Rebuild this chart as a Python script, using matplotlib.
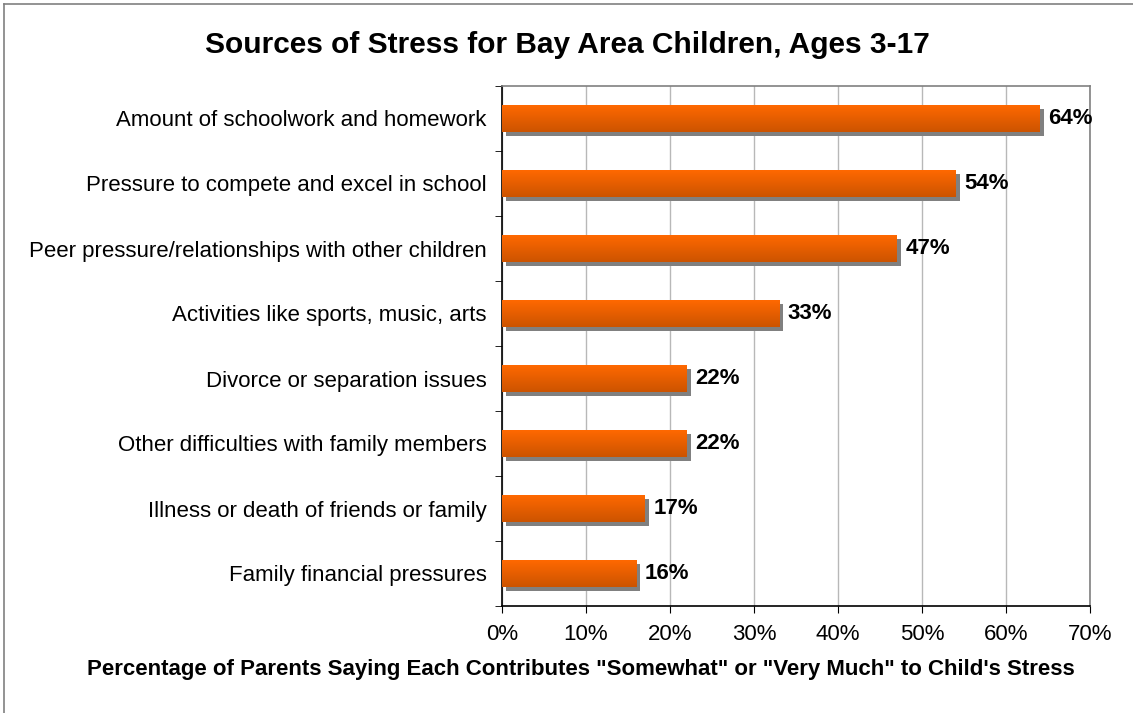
import matplotlib.pyplot as plt
import numpy as np
from matplotlib.transforms import ScaledTranslation
from matplotlib.lines import Line2D

plt.rcParams['font.family'] = ['Liberation Sans', 'DejaVu Sans']

# categories, top to bottom
sources = [
    "Amount of schoolwork and homework",
    "Pressure to compete and excel in school",
    "Peer pressure/relationships with other children",
    "Activities like sports, music, arts",
    "Divorce or separation issues",
    "Other difficulties with family members",
    "Illness or death of friends or family",
    "Family financial pressures",
]
percent = [64, 54, 47, 33, 22, 22, 17, 16]
x_ticks = [0, 10, 20, 30, 40, 50, 60, 70]

fig = plt.figure(figsize=(11.33, 7.13), dpi=100)
ax = fig.add_axes([502 / 1133, 1 - 606 / 713, 588 / 1133, 520 / 713])

n = len(sources)
ypos = np.arange(n)[::-1]
h = 0.415

# drop shadow, shifted 4px right and 4px down
shadow = ax.transData + ScaledTranslation(4 / 100, -4 / 100, fig.dpi_scale_trans)
ax.barh(ypos, percent, height=h, color='#808080', transform=shadow, zorder=2)

# orange bars with a vertical gradient
top_c = np.array([255, 104, 0]) / 255
bot_c = np.array([204, 84, 0]) / 255
grad = np.linspace(0, 1, 64)[:, None, None]
img = (1 - grad) * top_c + grad * bot_c
bars = ax.barh(ypos, percent, height=h, color='none', zorder=3)
for b in bars:
    x0, y0 = b.get_x(), b.get_y()
    im = ax.imshow(img, extent=[x0, x0 + b.get_width(), y0, y0 + b.get_height()],
                   aspect='auto', origin='upper', zorder=3, interpolation='bilinear')
    im.set_clip_path(b)

for y, v in zip(ypos, percent):
    ax.annotate(f"{v}%", (v, y), xytext=(6, 0), textcoords='offset points',
                ha='left', va='center', fontsize=16, fontweight='bold', zorder=4)

ax.set_xlim(0, 70)
ax.set_ylim(-0.5, n - 0.5)
ax.set_xticks(x_ticks)
ax.set_xticklabels([f"{t}%" for t in x_ticks], fontsize=16)
ax.set_yticks(ypos)
ax.set_yticklabels(sources, fontsize=16)
ax.set_yticks(np.arange(n + 1) - 0.5, minor=True)
ax.tick_params(axis='y', which='major', length=0, pad=11)
ax.tick_params(axis='y', which='minor', length=5, direction='out', color='black')
ax.tick_params(axis='x', length=5, direction='out', color='black', pad=8)
ax.grid(axis='x', color='#b8b8b8', lw=1, zorder=0)
ax.set_axisbelow(True)

ax.spines['left'].set_color('black')
ax.spines['bottom'].set_color('black')
ax.spines['top'].set_color('#808080')
ax.spines['right'].set_color('#808080')
for s in ax.spines.values():
    s.set_linewidth(1.2)

ax.set_xlabel("Percentage of Parents Saying Each Contributes \"Somewhat\" or \"Very Much\" to Child's Stress",
              fontsize=16, fontweight='bold')
ax.xaxis.set_label_coords((581 - 502) / 588, -(669 - 606) / 520)
ax.xaxis.label.set_va('center')

fig.text(567 / 1133, 1 - 45 / 713, "Sources of Stress for Bay Area Children, Ages 3-17",
         ha='center', va='center', fontsize=21.5, fontweight='bold')

# chart frame (left and top edges)
fig.add_artist(Line2D([4 / 1133, 4 / 1133], [0, 1 - 4 / 713], color='#808080', lw=1.2,
                      transform=fig.transFigure))
fig.add_artist(Line2D([4 / 1133, 1], [1 - 4 / 713, 1 - 4 / 713], color='#808080', lw=1.2,
                      transform=fig.transFigure))

fig.savefig('out.png', dpi=100)
